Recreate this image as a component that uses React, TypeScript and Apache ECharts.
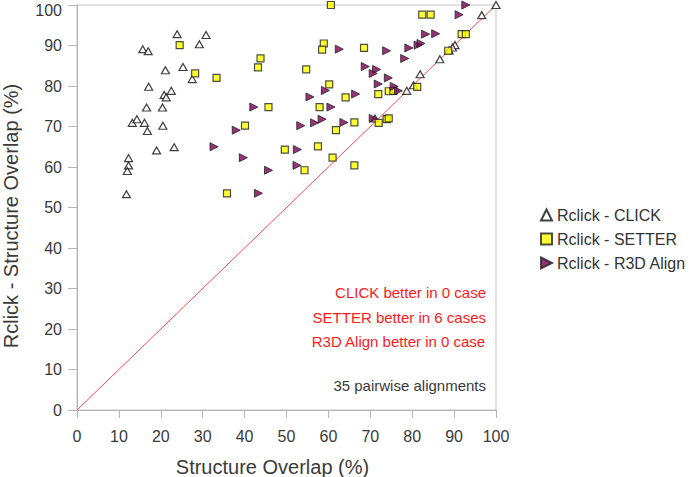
import React, { useEffect, useRef } from "react";
import * as echarts from "echarts";

const xTicks = [0, 10, 20, 30, 40, 50, 60, 70, 80, 90, 100];
const seriesNames = ["Rclick - CLICK", "Rclick - SETTER", "Rclick - R3D Align"];
const xTitle = "Structure Overlap (%)";
const yTitle = "Rclick - Structure Overlap (%)";

const clickPoints: number[][] = [
  [23.9, 92.8], [30.8, 92.6], [29.2, 90.3], [15.7, 89.1], [17.0, 88.6], [21.1, 83.9], [25.3, 84.7],
  [27.5, 81.7], [17.1, 79.8], [22.5, 78.8], [20.8, 77.8], [21.3, 77.2], [16.6, 74.7], [20.4, 74.7],
  [13.2, 70.9], [14.3, 71.8], [16.1, 70.9], [16.8, 68.9], [20.5, 70.2], [19.0, 64.1], [23.2, 64.9],
  [12.3, 62.2], [12.3, 60.4], [12.0, 59.0], [11.8, 53.3],
  [100, 100], [96.6, 97.5], [90.2, 90.1], [89.6, 89.5], [88.8, 88.8], [86.6, 86.6], [81.9, 82.9],
  [80.3, 80.2], [78.7, 78.8], [71.1, 72.0],
];

const setterPoints: number[][] = [
  [24.5, 90.1], [28.2, 83.1], [33.3, 82.0], [60.6, 100], [58.9, 90.5], [58.5, 89.0], [43.8, 86.8],
  [43.2, 84.6], [54.7, 84.1], [60.2, 80.4], [64.1, 77.2], [57.9, 74.8], [45.7, 74.8], [40.1, 70.2],
  [61.8, 69.1], [57.5, 65.1], [49.6, 64.3], [61.0, 62.3], [54.3, 59.2], [35.8, 53.5], [82.4, 97.6],
  [84.4, 97.6], [91.8, 92.8], [92.8, 92.8], [68.5, 89.4], [88.6, 88.7], [81.2, 79.8], [71.9, 78.0],
  [74.4, 78.7], [75.5, 78.8], [66.2, 71.0], [72.0, 70.9], [73.9, 71.8], [74.4, 72.0], [66.2, 60.4],
];

const r3dPoints: number[][] = [
  [62.6, 89.1], [59.3, 78.9], [55.6, 77.3], [42.2, 74.8], [60.6, 74.8], [58.5, 71.8], [56.7, 70.9],
  [53.4, 70.2], [63.7, 71.0], [38.0, 69.1], [32.7, 65.0], [52.6, 64.3], [39.7, 62.3], [52.5, 60.4],
  [45.7, 59.2], [43.3, 53.5],
  [92.8, 100], [91.2, 97.6], [83.2, 92.8], [85.6, 92.9], [73.9, 88.7], [79.2, 89.4], [81.4, 90.1],
  [82.1, 90.5], [78.2, 86.8], [68.8, 84.8], [71.5, 84.1], [70.7, 83.1], [71.9, 80.5], [74.3, 82.0],
  [75.7, 79.9], [76.7, 78.8], [66.5, 78.0], [70.7, 72.0],
];

const diagonal: number[][] = [[0, 0], [100, 100]];

const annotations = [
  "CLICK better in 0 case",
  "SETTER better in 6 cases",
  "R3D Align better in 0 case",
];
const footnote = "35 pairwise alignments";

const FONT = '"Liberation Sans", Arial, sans-serif';

export default function App() {
  const ref = useRef<HTMLDivElement>(null);
  useEffect(() => {
    if (!ref.current) return;
    const chart = echarts.init(ref.current, undefined, { renderer: "svg" });
    const axisCommon = {
      type: "value" as const,
      min: 0,
      max: 100,
      interval: 10,
      nameLocation: "middle" as const,
      axisLine: { show: true, lineStyle: { color: "#b4b4b4", width: 1 } },
      splitLine: { show: false },
    };
    chart.setOption({
      animation: false,
      backgroundColor: "#ffffff",
      textStyle: { fontFamily: FONT },
      grid: {
        left: 77,
        top: 5,
        right: 196,
        bottom: 67,
        containLabel: false,
        outerBoundsMode: "none",
        show: true,
        borderColor: "#c4c4c4",
        borderWidth: 1,
      },
      xAxis: {
        ...axisCommon,
        name: xTitle,
        nameGap: 47,
        nameTextStyle: { fontSize: 20, color: "#3a3a3a", fontFamily: FONT, padding: [0, 28, 0, 0] },
        axisTick: { show: true, length: 8, lineStyle: { color: "#b4b4b4" } },
        axisLabel: {
          margin: 18,
          fontSize: 16,
          color: "#3a3a3a",
          fontFamily: FONT,
          formatter: (v: number) => (xTicks.includes(v) ? String(v) : ""),
        },
      },
      yAxis: {
        ...axisCommon,
        name: yTitle,
        nameRotate: 90,
        nameGap: 56,
        nameTextStyle: { fontSize: 20, color: "#3a3a3a", fontFamily: FONT, padding: [0, 17, 0, 0] },
        axisTick: { show: true, length: 9, lineStyle: { color: "#b4b4b4" } },
        axisLabel: {
          margin: 15,
          fontSize: 16,
          color: "#3a3a3a",
          fontFamily: FONT,
          formatter: (v: number) => (v === 100 ? "{top|100}" : String(v)),
          rich: {
            top: {
              fontSize: 16,
              color: "#3a3a3a",
              fontFamily: FONT,
              lineHeight: 16,
              padding: [10, 0, 0, 0],
            },
          },
        },
      },
      legend: {
        orient: "vertical",
        left: 535,
        top: 202,
        itemWidth: 11,
        itemHeight: 11,
        itemGap: 8,
        data: [
          { name: seriesNames[0] },
          { name: seriesNames[1] },
          { name: seriesNames[2], icon: "path://M0,0 L10,5 L0,10 Z" },
        ],
        textStyle: { fontSize: 16, color: "#333333", fontFamily: FONT, lineHeight: 16 },
      },
      series: [
        {
          type: "line",
          data: diagonal,
          symbol: "none",
          lineStyle: { color: "#ff4a4a", width: 1 },
          silent: true,
          z: 1,
        },
        {
          name: seriesNames[0],
          type: "scatter",
          data: clickPoints,
          symbol: "triangle",
          symbolSize: [8, 7],
          itemStyle: { color: "#ffffff", borderColor: "#111111", borderWidth: 1.2 },
          z: 3,
        },
        {
          name: seriesNames[1],
          type: "scatter",
          data: setterPoints,
          symbol: "rect",
          symbolSize: 7,
          itemStyle: { color: "#ffff00", borderColor: "#222222", borderWidth: 1.2 },
          z: 3,
        },
        {
          name: seriesNames[2],
          type: "scatter",
          data: r3dPoints,
          symbol: "triangle",
          symbolRotate: -90,
          symbolSize: [8, 8],
          itemStyle: { color: "#800058", borderColor: "#222222", borderWidth: 1 },
          z: 3,
        },
      ],
      graphic: [
        ...annotations.map((t, i) => ({
          type: "text",
          right: 692 - 486,
          top: 294 + i * 24.5 - 9,
          style: {
            text: t,
            fill: "#ff1a1a",
            font: `15px ${FONT}`,
          },
        })),
        {
          type: "text",
          right: 692 - 486,
          top: 387 - 9,
          style: {
            text: footnote,
            fill: "#3a3a3a",
            font: `15px ${FONT}`,
          },
        },
      ],
    });
    return () => chart.dispose();
  }, []);
  return (
    <div
      ref={ref}
      style={{ position: "absolute", left: 0, top: 0, width: 692, height: 477 }}
    />
  );
}
